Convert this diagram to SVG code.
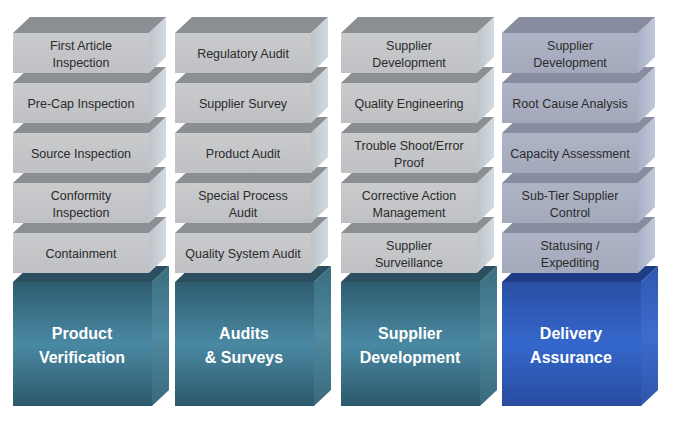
<svg xmlns="http://www.w3.org/2000/svg" xmlns:xlink="http://www.w3.org/1999/xlink" width="680" height="424" viewBox="0 0 680 424">
<defs>
<linearGradient id="gFront" x1="0" y1="0" x2="0" y2="1"><stop offset="0" stop-color="#c9cbcd"/><stop offset="1" stop-color="#bec0c3"/></linearGradient>
<linearGradient id="gSide" x1="0" y1="0" x2="1" y2="0"><stop offset="0" stop-color="#bcc4cb"/><stop offset="1" stop-color="#d3dadf"/></linearGradient>
<linearGradient id="bFront" x1="0" y1="0" x2="0" y2="1"><stop offset="0" stop-color="#aeb4c6"/><stop offset="1" stop-color="#a3a9bb"/></linearGradient>
<linearGradient id="bSide" x1="0" y1="0" x2="1" y2="0"><stop offset="0" stop-color="#aab1c6"/><stop offset="1" stop-color="#c2c8da"/></linearGradient>
<linearGradient id="tFront" x1="0" y1="0" x2="0" y2="1"><stop offset="0" stop-color="#2f5d70"/><stop offset="0.5" stop-color="#4a89a3"/><stop offset="1" stop-color="#2c586a"/></linearGradient>
<linearGradient id="tSide" x1="0" y1="0" x2="0" y2="1"><stop offset="0" stop-color="#3a6d80"/><stop offset="0.5" stop-color="#4f8aa0"/><stop offset="1" stop-color="#3a6a7c"/></linearGradient>
<linearGradient id="dFront" x1="0" y1="0" x2="0" y2="1"><stop offset="0" stop-color="#2a4fa3"/><stop offset="0.5" stop-color="#3567cc"/><stop offset="1" stop-color="#284c9e"/></linearGradient>
<linearGradient id="dSide" x1="0" y1="0" x2="0" y2="1"><stop offset="0" stop-color="#2f58b0"/><stop offset="0.5" stop-color="#3d6cce"/><stop offset="1" stop-color="#2e55aa"/></linearGradient>
<symbol id="gray" overflow="visible">
<polygon points="0,16 17,0 153,0 136,16" fill="#8b8f94"/>
<polygon points="136,16 153,0 153,40 136,56" fill="url(#gSide)"/>
<rect x="0" y="16" width="136" height="40" fill="url(#gFront)"/>
</symbol>
<symbol id="blue" overflow="visible">
<polygon points="0,16 17,0 153,0 136,16" fill="#878ca0"/>
<polygon points="136,16 153,0 153,40 136,56" fill="url(#bSide)"/>
<rect x="0" y="16" width="136" height="40" fill="url(#bFront)"/>
</symbol>
<symbol id="teal" overflow="visible">
<polygon points="0,16 17,0 156,0 139,16" fill="#2b4f5e"/>
<polygon points="139,16 156,0 156,124 139,140" fill="url(#tSide)"/>
<rect x="0" y="16" width="139" height="124" fill="url(#tFront)"/>
</symbol>
<symbol id="navy" overflow="visible">
<polygon points="0,16 17,0 156,0 139,16" fill="#1e3d86"/>
<polygon points="139,16 156,0 156,124 139,140" fill="url(#dSide)"/>
<rect x="0" y="16" width="139" height="124" fill="url(#dFront)"/>
</symbol>
</defs>
<style>
.s{font-family:"Liberation Sans",Arial,sans-serif;font-size:12.5px;fill:#2b2b2b;text-anchor:middle}
.b{font-family:"Liberation Sans",Arial,sans-serif;font-size:16px;font-weight:bold;fill:#ffffff;text-anchor:middle}
</style>
<rect width="680" height="424" fill="#ffffff"/>

<!-- Column 1 -->
<g id="product-verification"><use xlink:href="#teal" x="13" y="266"/><text class="b" x="82" y="339">Product</text><text class="b" x="82" y="363">Verification</text></g>
<g id="containment"><use xlink:href="#gray" x="13" y="217"/><text class="s" x="81" y="258">Containment</text></g>
<g id="conformity-inspection"><use xlink:href="#gray" x="13" y="167"/><text class="s" x="81" y="199.5">Conformity</text><text class="s" x="81" y="216.5">Inspection</text></g>
<g id="source-inspection"><use xlink:href="#gray" x="13" y="117"/><text class="s" x="81" y="158">Source Inspection</text></g>
<g id="pre-cap-inspection"><use xlink:href="#gray" x="13" y="67"/><text class="s" x="81" y="108">Pre-Cap Inspection</text></g>
<g id="first-article-inspection"><use xlink:href="#gray" x="13" y="17"/><text class="s" x="81" y="49.5">First Article</text><text class="s" x="81" y="66.5">Inspection</text></g>

<!-- Column 2 -->
<g id="audits-surveys"><use xlink:href="#teal" x="175" y="266"/><text class="b" x="244" y="339">Audits</text><text class="b" x="244" y="363">&amp; Surveys</text></g>
<g id="quality-system-audit"><use xlink:href="#gray" x="175" y="217"/><text class="s" x="243" y="258">Quality System Audit</text></g>
<g id="special-process-audit"><use xlink:href="#gray" x="175" y="167"/><text class="s" x="243" y="199.5">Special Process</text><text class="s" x="243" y="216.5">Audit</text></g>
<g id="product-audit"><use xlink:href="#gray" x="175" y="117"/><text class="s" x="243" y="158">Product Audit</text></g>
<g id="supplier-survey"><use xlink:href="#gray" x="175" y="67"/><text class="s" x="243" y="108">Supplier Survey</text></g>
<g id="regulatory-audit"><use xlink:href="#gray" x="175" y="17"/><text class="s" x="243" y="58">Regulatory Audit</text></g>

<!-- Column 3 -->
<g id="supplier-development-main"><use xlink:href="#teal" x="341" y="266"/><text class="b" x="410" y="339">Supplier</text><text class="b" x="410" y="363">Development</text></g>
<g id="supplier-surveillance"><use xlink:href="#gray" x="341" y="217"/><text class="s" x="409" y="249.5">Supplier</text><text class="s" x="409" y="266.5">Surveillance</text></g>
<g id="corrective-action-management"><use xlink:href="#gray" x="341" y="167"/><text class="s" x="409" y="199.5">Corrective Action</text><text class="s" x="409" y="216.5">Management</text></g>
<g id="trouble-shoot"><use xlink:href="#gray" x="341" y="117"/><text class="s" x="409" y="149.5">Trouble Shoot/Error</text><text class="s" x="409" y="166.5">Proof</text></g>
<g id="quality-engineering"><use xlink:href="#gray" x="341" y="67"/><text class="s" x="409" y="108">Quality Engineering</text></g>
<g id="supplier-development-3"><use xlink:href="#gray" x="341" y="17"/><text class="s" x="409" y="49.5">Supplier</text><text class="s" x="409" y="66.5">Development</text></g>

<!-- Column 4 -->
<g id="delivery-assurance"><use xlink:href="#navy" x="502" y="266"/><text class="b" x="571" y="339">Delivery</text><text class="b" x="571" y="363">Assurance</text></g>
<g id="statusing-expediting"><use xlink:href="#blue" x="502" y="217"/><text class="s" x="570" y="249.5">Statusing /</text><text class="s" x="570" y="266.5">Expediting</text></g>
<g id="sub-tier-supplier-control"><use xlink:href="#blue" x="502" y="167"/><text class="s" x="570" y="199.5">Sub-Tier Supplier</text><text class="s" x="570" y="216.5">Control</text></g>
<g id="capacity-assessment"><use xlink:href="#blue" x="502" y="117"/><text class="s" x="570" y="158">Capacity Assessment</text></g>
<g id="root-cause-analysis"><use xlink:href="#blue" x="502" y="67"/><text class="s" x="570" y="108">Root Cause Analysis</text></g>
<g id="supplier-development-4"><use xlink:href="#blue" x="502" y="17"/><text class="s" x="570" y="49.5">Supplier</text><text class="s" x="570" y="66.5">Development</text></g>
</svg>
